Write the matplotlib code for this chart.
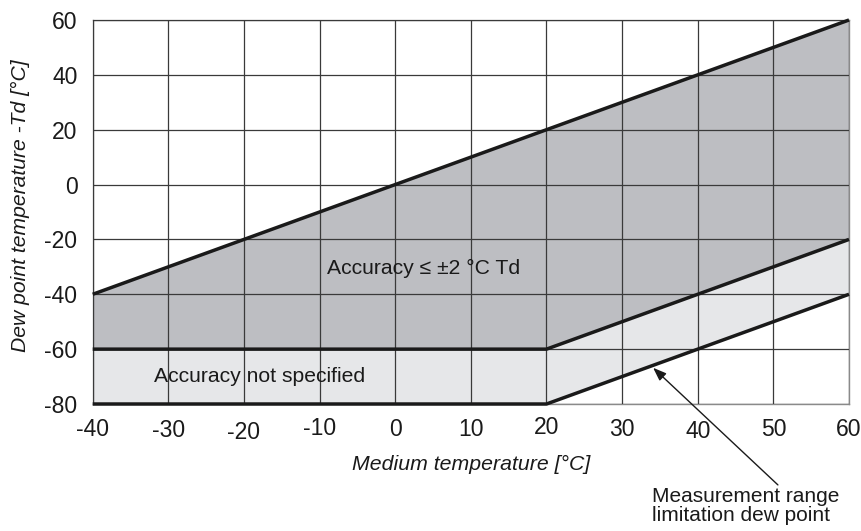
import matplotlib
matplotlib.use("Agg")
import matplotlib.pyplot as plt
import matplotlib.transforms as mtransforms
import numpy as np

plt.rcParams['font.family'] = ['Liberation Sans', 'DejaVu Sans']

# Data
medium_x = [-40, 20, 60]
upper_limit = [-40, 20, 60]        # Td = T
accuracy_limit = [-60, -60, -20]   # lower bound of specified accuracy
range_limit = [-80, -80, -40]      # measurement range limitation dew point
x_ticks = [-40, -30, -20, -10, 0, 10, 20, 30, 40, 50, 60]
y_ticks = [-80, -60, -40, -20, 0, 20, 40, 60]
x_label_dy = [0, -1, -3, 1, 0, 0, 2, 0, -2, 0, 0]

dark_fill = '#bdbec2'
light_fill = '#e6e7e9'

fig = plt.figure(figsize=(8.62, 5.31), dpi=100)
ax = fig.add_axes([92.7/862, 1-404/531, (849-92.7)/862, (404-20)/531])

ax.set_xlim(-40, 60)
ax.set_ylim(-80, 60)

ax.fill_between(medium_x, accuracy_limit, upper_limit, color=dark_fill, lw=0, zorder=1)
ax.fill_between(medium_x, range_limit, accuracy_limit, color=light_fill, lw=0, zorder=1)

ax.set_xticks(x_ticks)
ax.set_yticks(y_ticks)
ax.grid(True, color='#3a3a3a', lw=0.9, zorder=2)
ax.set_axisbelow(False)
for s in ax.spines.values():
    s.set_color('#8a8a8a')
    s.set_linewidth(1.0)
    s.set_zorder(2.5)

for yv in (upper_limit, accuracy_limit, range_limit):
    ax.plot(medium_x, yv, color='#1a1a1a', lw=2.5, solid_capstyle='butt', zorder=4, clip_on=False)

ax.tick_params(length=0, labelsize=16.5, colors='#1a1a1a')
ax.tick_params(axis='x', pad=10)
ax.tick_params(axis='y', pad=11)
ax.set_xticklabels([str(v) for v in x_ticks])
ax.set_yticklabels([str(v) for v in y_ticks])
for lab, dy in zip(ax.get_xticklabels(), x_label_dy):
    lab.set_transform(lab.get_transform() + mtransforms.ScaledTranslation(0, dy/100, fig.dpi_scale_trans))

ax.set_xlabel('Medium temperature [°C]', fontsize=15.3, style='italic', color='#1a1a1a', labelpad=8)
ax.set_ylabel('Dew point temperature -Td [°C]', fontsize=15.2, style='italic', color='#1a1a1a',
              va='center')
ax.yaxis.set_label_coords((20 - 92.7)/756.3, (404 - 206)/384)

ax.text(3.8, -30.5, 'Accuracy ≤ ±2 °C Td', fontsize=15.2, ha='center', va='center', color='#1a1a1a', zorder=5)
ax.text(-18, -70, 'Accuracy not specified', fontsize=15.2, ha='center', va='center', color='#1a1a1a', zorder=5)

ax.annotate('', xy=(34.1, -66.8), xytext=(50.6, -109.5),
            arrowprops=dict(arrowstyle='-|>,head_length=0.8,head_width=0.3', color='#1a1a1a', lw=1.0,
                            shrinkA=0, shrinkB=0),
            annotation_clip=False, zorder=5)
fig.text(652/862, 1-506/531, 'Measurement range\nlimitation dew point', fontsize=15.0,
         ha='left', va='center', color='#1a1a1a', linespacing=1.05)

fig.savefig('out.png', dpi=100)
